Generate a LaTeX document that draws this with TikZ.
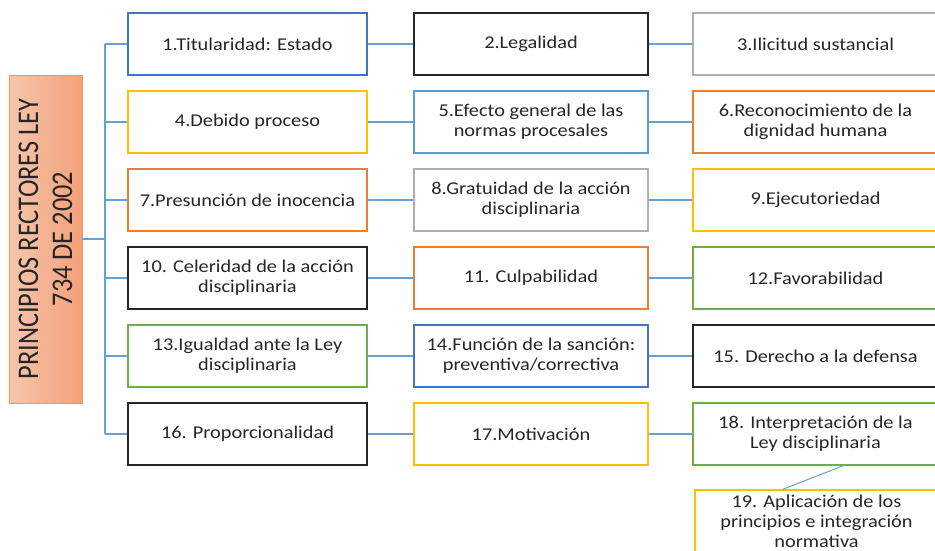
\documentclass[tikz,border=0pt]{standalone}
\usepackage{fontspec}
\setmainfont{Carlito}[FakeStretch=1.13]
\newfontfamily\rootfont{Carlito}[FakeStretch=0.88]
\usepackage{tikz}
\usetikzlibrary{calc}
\definecolor{linkblue}{HTML}{6A9FD4}
\definecolor{bblue}{HTML}{4472C4}
\definecolor{lblue}{HTML}{5B9BD5}
\definecolor{bgold}{HTML}{FFC000}
\definecolor{borange}{HTML}{ED7D31}
\definecolor{bgray}{HTML}{AFAFAF}
\definecolor{bgreen}{HTML}{70AD47}
\definecolor{bdark}{HTML}{262626}
\definecolor{peachl}{HTML}{F6C6AC}
\definecolor{peachd}{HTML}{F4A079}
\tikzset{
	box/.style={draw=#1, line width=1.2pt, minimum height=62pt, inner sep=2pt, align=center, text=bdark, font=\fontsize{18}{20}\selectfont},
	cola/.style={box=#1, minimum width=239pt},
	colb/.style={box=#1, minimum width=234pt},
	colc/.style={box=#1, minimum width=245pt},
	link/.style={draw=linkblue, line width=1.4pt},
}
\begin{document}
\begin{tikzpicture}[x=1pt, y=-1pt]
	\useasboundingbox (0,0) rectangle (935,550);
	\clip (0,0) rectangle (935,550);
	\node [rotate=90, draw=borange!80, line width=.8pt, left color=peachl, right color=peachd, minimum width=328pt, minimum height=73pt, align=center, text=bdark, font=\rootfont\fontsize{30}{34}\selectfont] (root) at (45.5,239) {PRINCIPIOS RECTORES LEY\\734 DE 2002};
	\coordinate (trunk) at (105,239);
	\node [cola=bblue] (b1) at (247.5,44) {1.Titularidad: Estado};
	\node [colb=bdark] (b2) at (531,44) {2.Legalidad};
	\node [colc=bgray] (b3) at (815.5,44) {3.Ilicitud sustancial};
	\node [cola=bgold] (b4) at (247.5,122) {4.Debido proceso};
	\node [colb=lblue] (b5) at (531,122) {5.Efecto general de las\\normas procesales};
	\node [colc=borange] (b6) at (815.5,122) {6.Reconocimiento de la\\dignidad humana};
	\node [cola=borange] (b7) at (247.5,200) {7.Presunción de inocencia};
	\node [colb=bgray] (b8) at (531,200) {8.Gratuidad de la acción\\disciplinaria};
	\node [colc=bgold] (b9) at (815.5,200) {9.Ejecutoriedad};
	\node [cola=bdark] (b10) at (247.5,278) {10. Celeridad de la acción\\disciplinaria};
	\node [colb=borange] (b11) at (531,278) {11. Culpabilidad};
	\node [colc=bgreen] (b12) at (815.5,278) {12.Favorabilidad};
	\node [cola=bgreen] (b13) at (247.5,356) {13.Igualdad ante la Ley\\disciplinaria};
	\node [colb=bblue] (b14) at (531,356) {14.Función de la sanción:\\preventiva/correctiva};
	\node [colc=bdark] (b15) at (815.5,356) {15. Derecho a la defensa};
	\node [cola=bdark] (b16) at (247.5,434) {16. Proporcionalidad};
	\node [colb=bgold] (b17) at (531,434) {17.Motivación};
	\node [colc=bgreen] (b18) at (815.5,434) {18. Interpretación de la\\Ley disciplinaria};
	\node [colc=bgold, minimum width=243pt] (b19) at (816.5,521) {19. Aplicación de los\\principios e integración\\normativa};
	\draw [link] (root.south) -- (trunk);
	\draw [link] (trunk |- b1) -- (trunk |- b16);
	\draw [link] (trunk |- b1) -- (b1.west);
	\draw [link] (trunk |- b4) -- (b4.west);
	\draw [link] (trunk |- b7) -- (b7.west);
	\draw [link] (trunk |- b10) -- (b10.west);
	\draw [link] (trunk |- b13) -- (b13.west);
	\draw [link] (trunk |- b16) -- (b16.west);
	\draw [link] (b1.east) -- (b2.west) (b2.east) -- (b3.west);
	\draw [link] (b4.east) -- (b5.west) (b5.east) -- (b6.west);
	\draw [link] (b7.east) -- (b8.west) (b8.east) -- (b9.west);
	\draw [link] (b10.east) -- (b11.west) (b11.east) -- (b12.west);
	\draw [link] (b13.east) -- (b14.west) (b14.east) -- (b15.west);
	\draw [link] (b16.east) -- (b17.west) (b17.east) -- (b18.west);
	\draw [link, line width=1pt] ([xshift=28pt]b18.south) -- ([xshift=-34pt]b19.north);
\end{tikzpicture}
\end{document}
